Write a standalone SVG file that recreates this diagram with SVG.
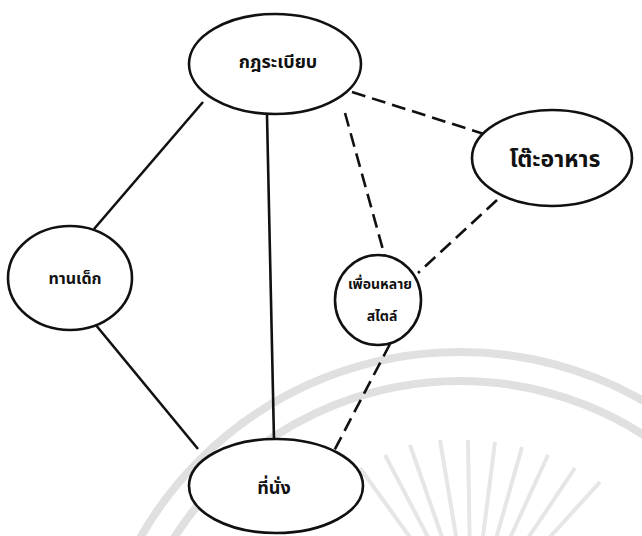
<svg xmlns="http://www.w3.org/2000/svg" width="642" height="536" viewBox="0 0 642 536">
<style>
.node{fill:#fff;stroke:#111;stroke-width:2.6}
.lbl{font-family:"Noto Sans Thai","Noto Sans","DejaVu Sans","Liberation Sans",sans-serif;font-weight:bold;fill:#111;text-anchor:middle}
.solid{stroke:#111;stroke-width:2.6;fill:none}
.dash{stroke:#111;stroke-width:2.6;fill:none;stroke-dasharray:14 7}
.wm{fill:none;stroke:#e0e0e0;stroke-width:8}
.ray{stroke:#e6e6e6;stroke-width:4}
</style>
<rect width="642" height="536" fill="#fff"/>
<g id="watermark">
<circle class="wm" cx="460" cy="720" r="368"/>
<circle class="wm" cx="460" cy="720" r="339"/>
<g class="ray">
<line x1="450" y1="560" x2="410" y2="445"/>
<line x1="460" y1="560" x2="440" y2="440"/>
<line x1="470" y1="560" x2="468" y2="440"/>
<line x1="480" y1="560" x2="495" y2="442"/>
<line x1="490" y1="560" x2="522" y2="447"/>
<line x1="500" y1="560" x2="548" y2="455"/>
<line x1="510" y1="565" x2="575" y2="468"/>
<line x1="520" y1="570" x2="600" y2="482"/>
<line x1="440" y1="560" x2="385" y2="455"/>
<line x1="430" y1="565" x2="360" y2="468"/>
</g>
</g>
<g id="connectors">
<line class="solid" x1="203" y1="102" x2="94" y2="229"/>
<line class="solid" x1="95" y1="324" x2="198" y2="449"/>
<line class="solid" x1="267" y1="115" x2="274" y2="440"/>
<line class="dash" x1="352" y1="92" x2="484" y2="134"/>
<line class="dash" x1="345" y1="113" x2="385" y2="257"/>
<line class="dash" x1="497" y1="200" x2="418" y2="273"/>
<line class="dash" x1="390" y1="344" x2="334" y2="451"/>
</g>
<g id="n-rules">
<ellipse class="node" cx="275" cy="64" rx="86" ry="50"/>
<text class="lbl" x="278" y="68" font-size="18">กฎระเบียบ</text>
</g>
<g id="n-table">
<ellipse class="node" cx="552" cy="158" rx="80" ry="48"/>
<text class="lbl" x="555" y="167" font-size="23">โต๊ะอาหาร</text>
</g>
<g id="n-left">
<ellipse class="node" cx="70" cy="278" rx="62" ry="52"/>
<text class="lbl" x="75" y="284" font-size="16">ทานเด็ก</text>
</g>
<g id="n-friends">
<ellipse class="node" cx="378" cy="300" rx="43" ry="45"/>
<text class="lbl" x="380" y="289" font-size="14">เพื่อนหลาย</text>
<text class="lbl" x="382" y="321" font-size="14">สไตล์</text>
</g>
<g id="n-seat">
<ellipse class="node" cx="276" cy="486" rx="87" ry="47"/>
<text class="lbl" x="274" y="494" font-size="18">ที่นั่ง</text>
</g>
</svg>
